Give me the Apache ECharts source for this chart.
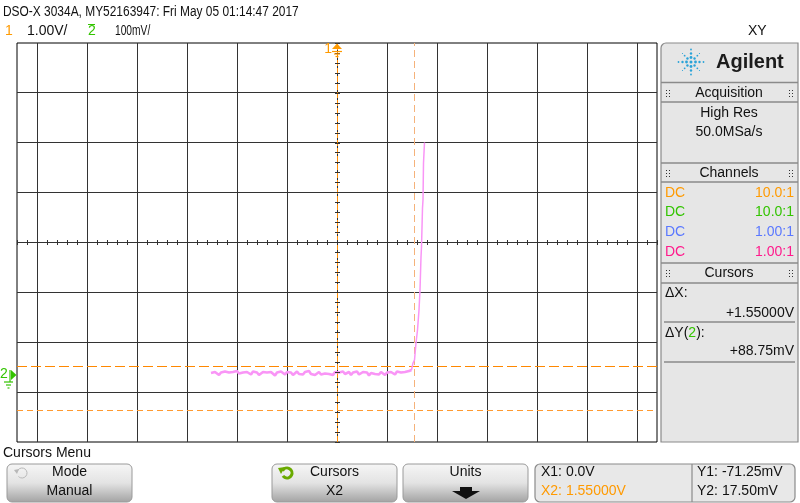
<!DOCTYPE html>
<html><head><meta charset="utf-8">
<script src="https://cdn.jsdelivr.net/npm/echarts@6.0.0/dist/echarts.min.js"></script>
<style>html,body{margin:0;padding:0;background:#fff}#c{width:800px;height:503px}</style>
</head><body><div id="c"></div>
<script>
// ---- data ----
const gridXVolts = [-6,-5,-4,-3,-2,-1,0,1,2,3,4,5,6];          // ch1 (X) 1.00 V/div
const gridYmV = [-35,65,165,265,365,465,565];                    // ch2 (Y) 100 mV/div
const traceX = [-2.52,-2.48,-2.44,-2.40,-2.36,-2.32,-2.28,-2.24,-2.20,-2.16,
  -2.12,-2.08,-2.04,-2.00,-1.96,-1.92,-1.88,-1.84,-1.80,-1.76,
  -1.72,-1.68,-1.64,-1.60,-1.56,-1.52,-1.48,-1.44,-1.40,-1.36,
  -1.32,-1.28,-1.24,-1.20,-1.16,-1.12,-1.08,-1.04,-1.00,-0.96,
  -0.92,-0.88,-0.84,-0.80,-0.76,-0.72,-0.68,-0.64,-0.60,-0.56,
  -0.52,-0.48,-0.44,-0.40,-0.36,-0.32,-0.28,-0.24,-0.20,-0.16,
  -0.12,-0.08,-0.04,0.00,0.04,0.08,0.12,0.16,0.20,0.24,
  0.28,0.32,0.36,0.40,0.44,0.48,0.52,0.56,0.60,0.64,
  0.68,0.72,0.76,0.80,0.84,0.88,0.92,0.96,1.00,1.04,
  1.08,1.12,1.16,1.20,1.24,1.28,1.32,1.36,1.40,1.44,
  1.49,1.52,1.55,1.58,1.61,1.64,1.66,1.68,1.69,1.71,1.72,1.73,1.75];
const traceY = [4,1,6,3,0,5,2,7,3,5,
  1,6,2,8,3,0,5,2,6,4,
  1,7,3,5,0,4,6,2,5,1,
  6,3,-1,5,2,7,4,1,6,3,
  5,0,4,7,2,5,1,6,3,8,
  2,5,0,4,6,1,5,3,7,2,
  4,0,6,3,5,1,7,2,4,6,
  0,5,3,7,1,4,6,2,5,-1,
  4,7,2,5,1,6,3,0,5,2,
  6,4,1,7,3,5,2,6,4,8,
  10,24,30,64,90,130,170,236,256,334,350,424,465];
const riseStart = 100;                       // index where the edge begins
const cursorX1 = 0.0, cursorX2 = 1.55;      // V
const cursorY1 = -71.25, cursorY2 = 17.50;  // mV
const channelRows = [['DC','10.0:1','#ff9a00'],['DC','10.0:1','#33c400'],['DC','1.00:1','#5a78ff'],['DC','1.00:1','#ff1a8c']];

// ---- chart ----
const F = "'Liberation Sans',Arial,sans-serif";
const chart = echarts.init(document.getElementById('c'), null, {renderer:'canvas', width:800, height:503});

const G = [];
function txt(x,y,s,color,size,align,extra,weight){
  G.push(Object.assign({type:'text', x:x, y:y, z:100, silent:true,
    style:{text:s, fill:color||'#111', font:(weight?weight+' ':'')+(size||14)+'px '+F,
      textAlign:align||'left', align:align||'left', textVerticalAlign:'middle', verticalAlign:'middle'}}, extra||{}));
}
function rect(x,y,w,h,fill,stroke,r,lw,z){ G.push({type:'rect', silent:true, z:z||90, shape:{x:x,y:y,width:w,height:h,r:r||0}, style:{fill:fill||'none', stroke:stroke||'none', lineWidth:lw||1}}); }
function line(x1,y1,x2,y2,color,lw,z){ G.push({type:'line', silent:true, z:z||95, shape:{x1:x1,y1:y1,x2:x2,y2:y2}, style:{stroke:color, lineWidth:lw||1}}); }
function poly(points,fill,z){ G.push({type:'polygon', silent:true, z:z||96, shape:{points:points}, style:{fill:fill}}); }
function circ(cx,cy,r,fill){ G.push({type:'circle', silent:true, z:96, shape:{cx:cx,cy:cy,r:r}, style:{fill:fill}}); }
function grip(x,y){ for(let i=0;i<2;i++) for(let j=0;j<3;j++) rect(x+i*3,y+j*3,1,1,'#333',null,0,1,97); }

// header texts
txt(3,12,'DSO-X 3034A, MY52163947: Fri May 05 01:14:47 2017','#111',14,'left',{scaleX:0.852});
txt(5,31,'1','#ff9a00',14);
txt(27,31,'1.00V/','#111',14);
txt(88,31,'2','#33c400',14);
line(88,24.5,95,24.5,'#33c400',1);
txt(115,31,'100mV/','#111',14,'left',{scaleX:0.73});
txt(748,31,'XY','#111',14);

// channel markers on the plot
txt(332,49,'1','#ff9a00',14,'right');
poly([[332,49],[337,43.5],[342,49]],'#ff9a00');
line(332,51.5,342,51.5,'#ff9a00',1.2,97);
line(334,54,340,54,'#ff9a00',1.2,97);
line(335.5,56.5,338.5,56.5,'#ff9a00',1.2,97);
txt(0,374,'2','#33c400',14);
poly([[11,370],[16.5,375],[11,380]],'#33c400');
line(10,370,10,382,'#33c400',1.2,97);
line(4,382,13,382,'#33c400',1.2,97);
line(6,385,11,385,'#33c400',1.2,97);
line(7.5,388,9.5,388,'#33c400',1.2,97);

// right panel
rect(661,43,137,399,'#e6e6e6','#8a8a8a',[5,0,0,0],1.2,80);
const sc=[691,62];
circ(sc[0],sc[1],1.5,'#2aa3d8');
for(let k=0;k<8;k++){
  const a=k*Math.PI/4, ax=(k%2===0);
  const rs = ax ? [[4.5,1.4],[8.5,1.2],[12.5,0.9]] : [[5,1.2],[9,0.9],[12,0.6]];
  rs.forEach(function(p){ circ(sc[0]+Math.cos(a)*p[0], sc[1]+Math.sin(a)*p[0], p[1], '#2aa3d8'); });
}
txt(716,62,'Agilent','#1c1c1c',20,'left',null,'bold');
[82.5,102,163,182,263,283].forEach(function(y){ line(661,y,798,y,'#8a8a8a',1.5); });
[322,362].forEach(function(y){ line(664,y,795,y,'#8a8a8a',1.5); });
[[93,'Acquisition'],[173,'Channels'],[273,'Cursors']].forEach(function(h){
  txt(729,h[0],h[1],'#111',14,'center'); grip(666,h[0]-3); grip(789,h[0]-3);
});
txt(729,113,'High Res','#111',14,'center');
txt(729,132,'50.0MSa/s','#111',14,'center');
channelRows.forEach(function(r,i){
  const y=[193,212,232,252][i];
  txt(665,y,r[0],r[2],14); txt(794,y,r[1],r[2],14,'right');
});
txt(665,293,'ΔX:','#111',14);
txt(794,313,'+1.55000V','#111',14,'right');
G.push({type:'text', x:665, y:333, z:100, silent:true, style:{text:'{a|ΔY(}{g|2}{a|):}', font:'14px '+F, fill:'#111', textAlign:'left', align:'left', textVerticalAlign:'middle', verticalAlign:'middle',
  rich:{a:{fill:'#111', font:'14px '+F}, g:{fill:'#33c400', font:'14px '+F}}}});
txt(794,351,'+88.75mV','#111',14,'right');

// bottom softkeys
txt(3,453,'Cursors Menu','#111',14);
function btnFill(){ return new echarts.graphic.LinearGradient(0,0,0,1,[{offset:0,color:'#f6f6f6'},{offset:0.5,color:'#e3e3e3'},{offset:1,color:'#a2a2a2'}]); }
[[7,125,'Mode','Manual'],[272,125,'Cursors','X2'],[403,125,'Units',null]].forEach(function(b){
  G.push({type:'rect', silent:true, z:90, shape:{x:b[0],y:464,width:b[1],height:38,r:5}, style:{fill:btnFill(), stroke:'#9a9a9a', lineWidth:1}});
  txt(b[0]+b[1]/2,472.5,b[2],'#111',14,'center');
  if(b[3]) txt(b[0]+b[1]/2,491.5,b[3],'#111',14,'center');
});
G.push({type:'arc', silent:true, z:97, shape:{cx:22,cy:473,r:5,startAngle:-Math.PI*0.9,endAngle:Math.PI*0.75}, style:{stroke:'#b8b8b8',fill:'none',lineWidth:1}});
poly([[14,470],[19,469],[17,474]],'#b8b8b8');
G.push({type:'arc', silent:true, z:97, shape:{cx:287,cy:473,r:5,startAngle:-Math.PI*0.85,endAngle:Math.PI*0.8}, style:{stroke:'#6aaa00',fill:'none',lineWidth:3}});
poly([[278,468],[285,467],[281,474]],'#6aaa00');
rect(460,487,12,4,'#111',null,0,1,97);
poly([[452,491],[480,491],[466,499]],'#111');
rect(535,464,260,38,'#e8e8e8','#8a8a8a',5,1.2,90);
line(692,464,692,502,'#8a8a8a',1.2);
txt(541,472.5,'X1: 0.0V','#111',14);
txt(541,491.5,'X2: 1.55000V','#ff9a00',14);
txt(697,472.5,'Y1: -71.25mV','#111',14);
txt(697,491.5,'Y2: 17.50mV','#111',14);

const tracePts = traceX.map(function(x,i){return [x, traceY[i]];});

const option = {
  animation:false,
  backgroundColor:'#fff',
  grid:{left:17, top:43, width:640, height:399, show:true, backgroundColor:'#fff', borderColor:'#000', borderWidth:1},
  xAxis:[
    {type:'value', min:-6.4, max:6.4, show:false},
    {type:'value', min:-6.4, max:6.4, interval:0.2, position:'bottom', offset:-197, z:10,
     axisLine:{show:false, onZero:false}, axisTick:{show:true, inside:true, length:5, lineStyle:{color:'#333', width:1}},
     axisLabel:{show:false}, splitLine:{show:false}}
  ],
  yAxis:[
    {type:'value', min:-134, max:664, show:false},
    {type:'value', min:-4, max:4, interval:0.2, position:'left', offset:-318, z:10,
     axisLine:{show:false, onZero:false}, axisTick:{show:true, inside:true, length:5, lineStyle:{color:'#333', width:1}},
     axisLabel:{show:false}, splitLine:{show:false}}
  ],
  series:[
    {type:'line', xAxisIndex:0, yAxisIndex:0, silent:true, data:[[0,265]], showSymbol:false, lineStyle:{width:0}, z:1,
     markLine:{silent:true, symbol:['none','none'], label:{show:false}, animation:false,
       lineStyle:{color:'#333', width:1, type:'solid'},
       emphasis:{disabled:true},
       data: gridXVolts.map(function(v){return {xAxis:v};}).concat(gridYmV.map(function(v){return {yAxis:v};}))}},
    {type:'line', xAxisIndex:0, yAxisIndex:0, silent:true, data:[[0,265]], showSymbol:false, lineStyle:{width:0}, z:3,
     markLine:{silent:true, symbol:['none','none'], label:{show:false}, animation:false, emphasis:{disabled:true},
       data:[
         {xAxis:cursorX1, lineStyle:{color:'#ff8c00', width:1, type:[6,2]}},
         {xAxis:cursorX2, lineStyle:{color:'#f5b27a', width:1, type:[7,4]}},
         {yAxis:cursorY2, lineStyle:{color:'#ff8800', width:1, type:[10,4]}},
         {yAxis:cursorY1, lineStyle:{color:'#ff9a30', width:1, type:[6,4]}}
       ]}},
    {type:'line', xAxisIndex:0, yAxisIndex:0, silent:true, z:5, showSymbol:false,
     data: tracePts.slice(0, riseStart + 1),
     lineStyle:{color:'#f995f6', width:2.6, join:'bevel'}},
    {type:'line', xAxisIndex:0, yAxisIndex:0, silent:true, z:5, showSymbol:false,
     data: tracePts.slice(riseStart),
     lineStyle:{color:'#f995f6', width:1.5}}
  ],
  graphic:{elements:G}
};
chart.setOption(option);
</script></body></html>
